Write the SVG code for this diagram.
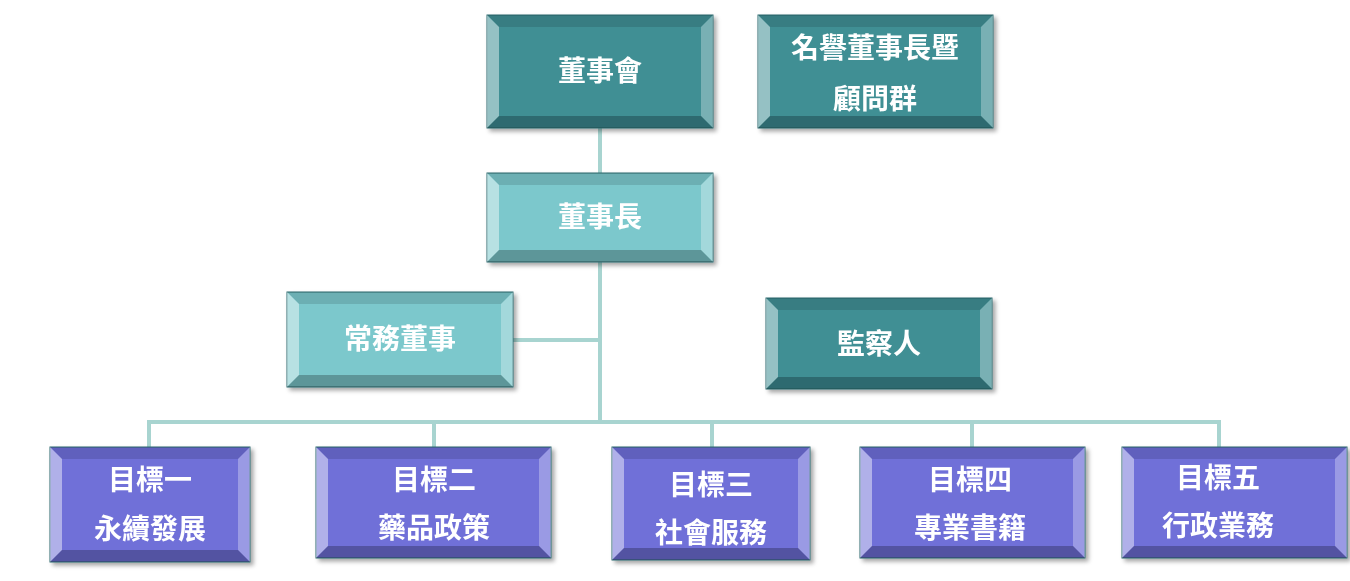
<svg xmlns="http://www.w3.org/2000/svg" width="1350" height="581" viewBox="0 0 1350 581">
<style>
.d{fill:#3f8f94}.l{fill:#7cc8cc}.p{fill:#6f6fd8}
.o{stroke:#2c6a6e;stroke-width:1}
.hl{fill:#fff;opacity:.45}.hr{fill:#fff;opacity:.3}.st{fill:#000;opacity:.12}.sb{fill:#000;opacity:.25}
text{font-family:"Noto Sans CJK TC","Noto Sans CJK SC",sans-serif;font-size:28px;font-weight:bold;fill:#fff;text-anchor:middle}
.c{stroke:#a8d4d0;stroke-width:4;fill:none}
</style>
<defs>
<filter id="sh" x="-10%" y="-10%" width="130%" height="130%"><feDropShadow dx="3" dy="3" stdDeviation="2" flood-color="#000" flood-opacity=".35"/></filter>
</defs>
<g id="connectors" class="c">
<path d="M600 128V420M513 340H600M149 422H1219M149 420V447M434 420V447M712 420V447M972 420V447M1219 420V447"/>
</g>
<g id="n1" filter="url(#sh)"><rect class="d o" x="487" y="15" width="226" height="113"/><polygon class="st" points="487,15 713,15 701,27 499,27"/><polygon class="hl" points="487,15 499,27 499,116 487,128"/><polygon class="hr" points="713,15 701,27 701,116 713,128"/><polygon class="sb" points="487,128 499,116 701,116 713,128"/><text x="600" y="81">董事會</text></g>
<g id="n2" filter="url(#sh)"><rect class="d o" x="758" y="15" width="235" height="113"/><polygon class="st" points="758,15 993,15 981,27 770,27"/><polygon class="hl" points="758,15 770,27 770,116 758,128"/><polygon class="hr" points="993,15 981,27 981,116 993,128"/><polygon class="sb" points="758,128 770,116 981,116 993,128"/><text x="875" y="58">名譽董事長暨</text><text x="875" y="109">顧問群</text></g>
<g id="n3" filter="url(#sh)"><rect class="l o" x="487" y="173" width="226" height="89"/><polygon class="st" points="487,173 713,173 701,185 499,185"/><polygon class="hl" points="487,173 499,185 499,250 487,262"/><polygon class="hr" points="713,173 701,185 701,250 713,262"/><polygon class="sb" points="487,262 499,250 701,250 713,262"/><text x="600" y="227">董事長</text></g>
<g id="n4" filter="url(#sh)"><rect class="l o" x="287" y="292" width="226" height="95"/><polygon class="st" points="287,292 513,292 501,304 299,304"/><polygon class="hl" points="287,292 299,304 299,375 287,387"/><polygon class="hr" points="513,292 501,304 501,375 513,387"/><polygon class="sb" points="287,387 299,375 501,375 513,387"/><text x="400" y="349">常務董事</text></g>
<g id="n5" filter="url(#sh)"><rect class="d o" x="766" y="298" width="226" height="91"/><polygon class="st" points="766,298 992,298 980,310 778,310"/><polygon class="hl" points="766,298 778,310 778,377 766,389"/><polygon class="hr" points="992,298 980,310 980,377 992,389"/><polygon class="sb" points="766,389 778,377 980,377 992,389"/><text x="879" y="354">監察人</text></g>
<g id="g1" filter="url(#sh)"><rect class="p o" x="50" y="447" width="200" height="115"/><polygon class="st" points="50,447 250,447 238,459 62,459"/><polygon class="hl" points="50,447 62,459 62,550 50,562"/><polygon class="hr" points="250,447 238,459 238,550 250,562"/><polygon class="sb" points="50,562 62,550 238,550 250,562"/><text x="150" y="490">目標一</text><text x="150" y="539">永續發展</text></g>
<g id="g2" filter="url(#sh)"><rect class="p o" x="316" y="447" width="235" height="111"/><polygon class="st" points="316,447 551,447 539,459 328,459"/><polygon class="hl" points="316,447 328,459 328,546 316,558"/><polygon class="hr" points="551,447 539,459 539,546 551,558"/><polygon class="sb" points="316,558 328,546 539,546 551,558"/><text x="434" y="490">目標二</text><text x="434" y="538">藥品政策</text></g>
<g id="g3" filter="url(#sh)"><rect class="p o" x="612" y="447" width="198" height="113"/><polygon class="st" points="612,447 810,447 798,459 624,459"/><polygon class="hl" points="612,447 624,459 624,548 612,560"/><polygon class="hr" points="810,447 798,459 798,548 810,560"/><polygon class="sb" points="612,560 624,548 798,548 810,560"/><text x="711" y="495">目標三</text><text x="711" y="543">社會服務</text></g>
<g id="g4" filter="url(#sh)"><rect class="p o" x="860" y="447" width="225" height="111"/><polygon class="st" points="860,447 1085,447 1073,459 872,459"/><polygon class="hl" points="860,447 872,459 872,546 860,558"/><polygon class="hr" points="1085,447 1073,459 1073,546 1085,558"/><polygon class="sb" points="860,558 872,546 1073,546 1085,558"/><text x="970" y="490">目標四</text><text x="970" y="538">專業書籍</text></g>
<g id="g5" filter="url(#sh)"><rect class="p o" x="1122" y="447" width="225" height="111"/><polygon class="st" points="1122,447 1347,447 1335,459 1134,459"/><polygon class="hl" points="1122,447 1134,459 1134,546 1122,558"/><polygon class="hr" points="1347,447 1335,459 1335,546 1347,558"/><polygon class="sb" points="1122,558 1134,546 1335,546 1347,558"/><text x="1218" y="488">目標五</text><text x="1218" y="536">行政業務</text></g>
</svg>
